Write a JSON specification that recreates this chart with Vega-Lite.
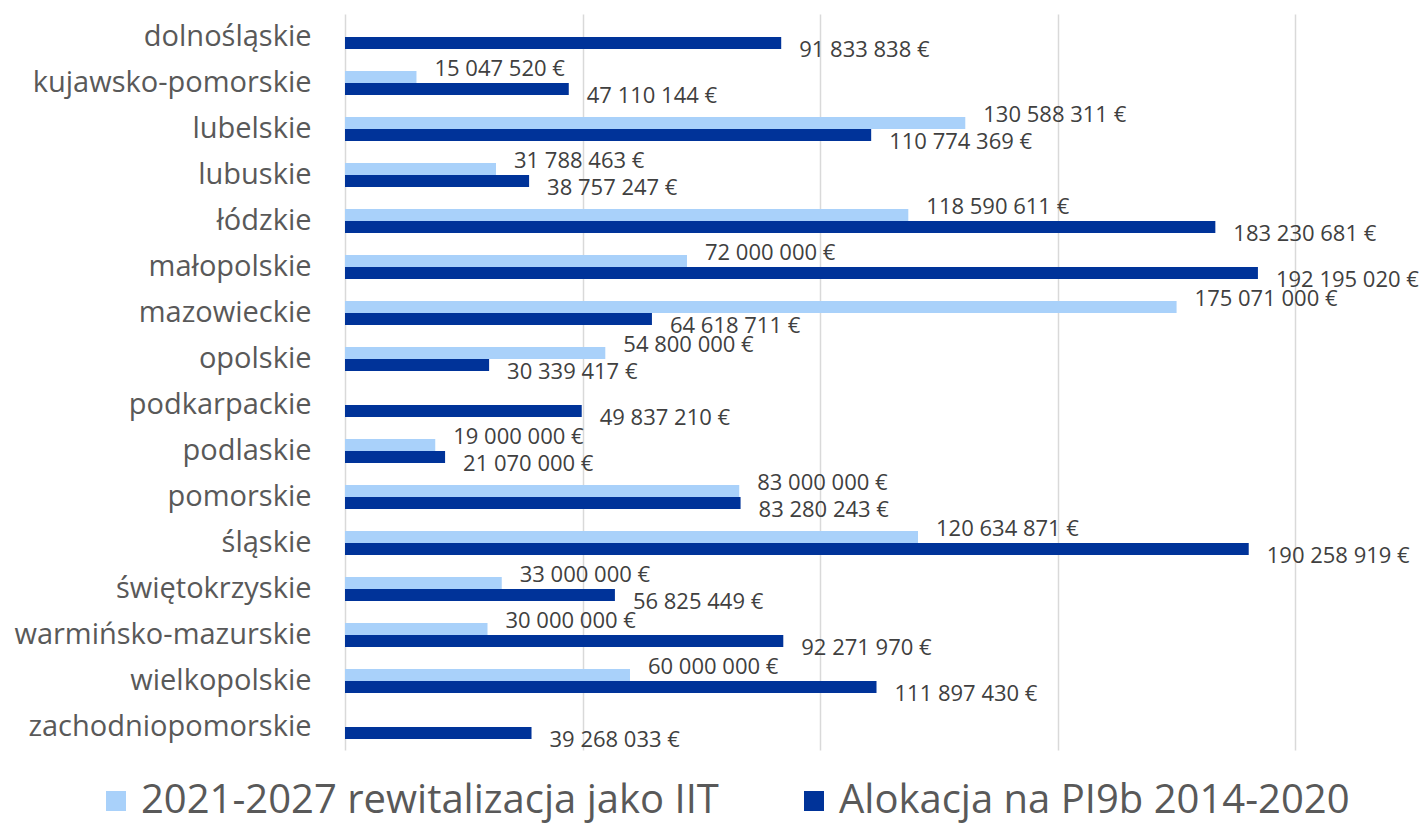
{
  "$schema": "https://vega.github.io/schema/vega-lite/v6.json",
  "width": 950,
  "height": 736,
  "autosize": {"type": "none"},
  "padding": {"left": 345, "top": 14, "right": 130, "bottom": 76},
  "background": "white",
  "config": {
    "locale": {"number": {"decimal": ",", "thousands": " ", "grouping": [3], "currency": ["", " €"]}},
    "view": {"stroke": null},
    "font": "Open Sans"
  },
  "data": {
    "values": [
      {"woj": "dolnośląskie", "seria": "Alokacja na PI9b 2014-2020", "kwota": 91833838},
      {"woj": "kujawsko-pomorskie", "seria": "2021-2027 rewitalizacja jako IIT", "kwota": 15047520},
      {"woj": "kujawsko-pomorskie", "seria": "Alokacja na PI9b 2014-2020", "kwota": 47110144},
      {"woj": "lubelskie", "seria": "2021-2027 rewitalizacja jako IIT", "kwota": 130588311},
      {"woj": "lubelskie", "seria": "Alokacja na PI9b 2014-2020", "kwota": 110774369},
      {"woj": "lubuskie", "seria": "2021-2027 rewitalizacja jako IIT", "kwota": 31788463},
      {"woj": "lubuskie", "seria": "Alokacja na PI9b 2014-2020", "kwota": 38757247},
      {"woj": "łódzkie", "seria": "2021-2027 rewitalizacja jako IIT", "kwota": 118590611},
      {"woj": "łódzkie", "seria": "Alokacja na PI9b 2014-2020", "kwota": 183230681},
      {"woj": "małopolskie", "seria": "2021-2027 rewitalizacja jako IIT", "kwota": 72000000},
      {"woj": "małopolskie", "seria": "Alokacja na PI9b 2014-2020", "kwota": 192195020},
      {"woj": "mazowieckie", "seria": "2021-2027 rewitalizacja jako IIT", "kwota": 175071000},
      {"woj": "mazowieckie", "seria": "Alokacja na PI9b 2014-2020", "kwota": 64618711},
      {"woj": "opolskie", "seria": "2021-2027 rewitalizacja jako IIT", "kwota": 54800000},
      {"woj": "opolskie", "seria": "Alokacja na PI9b 2014-2020", "kwota": 30339417},
      {"woj": "podkarpackie", "seria": "Alokacja na PI9b 2014-2020", "kwota": 49837210},
      {"woj": "podlaskie", "seria": "2021-2027 rewitalizacja jako IIT", "kwota": 19000000},
      {"woj": "podlaskie", "seria": "Alokacja na PI9b 2014-2020", "kwota": 21070000},
      {"woj": "pomorskie", "seria": "2021-2027 rewitalizacja jako IIT", "kwota": 83000000},
      {"woj": "pomorskie", "seria": "Alokacja na PI9b 2014-2020", "kwota": 83280243},
      {"woj": "śląskie", "seria": "2021-2027 rewitalizacja jako IIT", "kwota": 120634871},
      {"woj": "śląskie", "seria": "Alokacja na PI9b 2014-2020", "kwota": 190258919},
      {"woj": "świętokrzyskie", "seria": "2021-2027 rewitalizacja jako IIT", "kwota": 33000000},
      {"woj": "świętokrzyskie", "seria": "Alokacja na PI9b 2014-2020", "kwota": 56825449},
      {"woj": "warmińsko-mazurskie", "seria": "2021-2027 rewitalizacja jako IIT", "kwota": 30000000},
      {"woj": "warmińsko-mazurskie", "seria": "Alokacja na PI9b 2014-2020", "kwota": 92271970},
      {"woj": "wielkopolskie", "seria": "2021-2027 rewitalizacja jako IIT", "kwota": 60000000},
      {"woj": "wielkopolskie", "seria": "Alokacja na PI9b 2014-2020", "kwota": 111897430},
      {"woj": "zachodniopomorskie", "seria": "Alokacja na PI9b 2014-2020", "kwota": 39268033}
    ]
  },
  "encoding": {
    "y": {
      "field": "woj", "type": "nominal", "sort": null,
      "scale": {"paddingInner": 0.48, "paddingOuter": 0.24},
      "axis": {"title": null, "ticks": false, "domain": false, "labelFontSize": 29, "labelColor": "#595959", "labelPadding": 34, "labelFont": "Open Sans", "labelLimit": 400}
    },
    "x": {
      "field": "kwota", "type": "quantitative",
      "scale": {"domain": [0, 200000000], "nice": false},
      "axis": {"title": null, "labels": false, "ticks": false, "domain": false, "values": [0, 50000000, 100000000, 150000000, 200000000], "gridColor": "#d9d9d9", "gridWidth": 1.5}
    },
    "yOffset": {"field": "seria", "type": "nominal", "sort": ["2021-2027 rewitalizacja jako IIT", "Alokacja na PI9b 2014-2020"]}
  },
  "layer": [
    {
      "mark": {"type": "bar"},
      "encoding": {
        "color": {
          "field": "seria", "type": "nominal",
          "scale": {"domain": ["2021-2027 rewitalizacja jako IIT", "Alokacja na PI9b 2014-2020"], "range": ["#A9D1FA", "#003399"]},
          "legend": {
            "title": null, "orient": "none", "direction": "horizontal",
            "legendX": -249, "legendY": 767,
            "symbolType": "square", "symbolSize": 400, "symbolStrokeWidth": 0,
            "labelFontSize": 40, "labelColor": "#595959", "labelFont": "Open Sans",
            "labelOffset": 5, "columnPadding": 75, "labelLimit": 800
          }
        }
      }
    },
    {
      "transform": [{"filter": "datum.seria == '2021-2027 rewitalizacja jako IIT'"}],
      "mark": {"type": "text", "align": "left", "baseline": "middle", "dx": 18, "dy": -8, "fontSize": 22, "color": "#404040", "font": "Open Sans"},
      "encoding": {"text": {"field": "kwota", "type": "quantitative", "format": "$,.0f"}}
    },
    {
      "transform": [{"filter": "datum.seria == 'Alokacja na PI9b 2014-2020'"}],
      "mark": {"type": "text", "align": "left", "baseline": "middle", "dx": 18, "dy": 7, "fontSize": 22, "color": "#404040", "font": "Open Sans"},
      "encoding": {"text": {"field": "kwota", "type": "quantitative", "format": "$,.0f"}}
    }
  ]
}
